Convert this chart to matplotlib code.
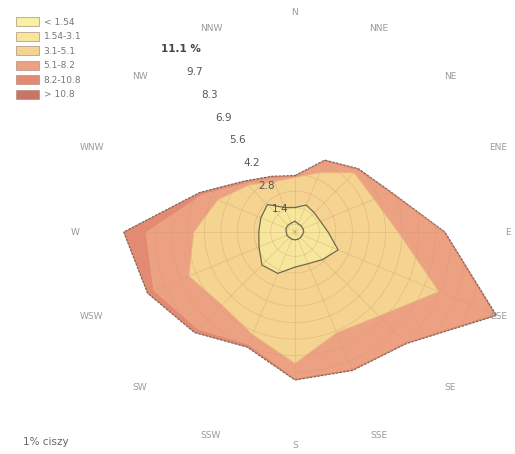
import numpy as np
import matplotlib
matplotlib.use("Agg")
import matplotlib.pyplot as plt
from matplotlib.patches import Patch

# wind directions (clockwise from N)
directions = ["N", "NNE", "NE", "ENE", "E", "ESE", "SE", "SSE",
              "S", "SSW", "SW", "WSW", "W", "WNW", "NW", "NNW"]

# speed classes [m/s]
classes = ["< 1.54", "1.54-3.1", "3.1-5.1", "5.1-8.2", "8.2-10.8", "> 10.8"]

# frequency of each speed class per direction [%]
freq_lt154 = [0.55, 0.45, 0.45, 0.45, 0.45, 0.40, 0.40, 0.40,
              0.40, 0.40, 0.40, 0.45, 0.45, 0.50, 0.50, 0.50]
freq_154_31 = [0.71, 1.05, 0.95, 0.97, 1.25, 2.00, 1.60, 1.36,
               1.40, 1.90, 2.00, 1.55, 1.41, 1.40, 1.50, 0.86]
freq_31_51 = [1.54, 1.80, 2.90, 2.98, 3.60, 5.60, 4.10, 3.84,
              4.95, 3.40, 2.90, 3.90, 3.34, 2.40, 1.40, 1.44]
freq_51_82 = [0.05, 0.65, 0.25, 0.90, 2.35, 3.10, 1.95, 2.05,
              0.80, 0.60, 1.80, 2.00, 2.50, 0.85, 0.20, 0.25]
freq_82_108 = [0.05, 0.05, 0.05, 0.05, 0.05, 0.10, 0.05, 0.05,
               0.05, 0.10, 0.20, 0.30, 1.10, 0.15, 0.10, 0.05]
freq_gt108 = [0.00, 0.00, 0.00, 0.00, 0.00, 0.00, 0.00, 0.00,
              0.00, 0.00, 0.00, 0.00, 0.00, 0.00, 0.00, 0.00]

ring_labels = ["1.4", "2.8", "4.2", "5.6", "6.9", "8.3", "9.7", "11.1 %"]
ring_values = [1.4, 2.8, 4.2, 5.6, 6.9, 8.3, 9.7, 11.1]

calm_text = "1% ciszy"

colors = ["#f7f1a2", "#f6e79c", "#f5d391", "#eda183", "#e48a73", "#c97565"]

freqs = np.array([freq_lt154, freq_154_31, freq_31_51,
                  freq_51_82, freq_82_108, freq_gt108])
cum = np.cumsum(freqs, axis=0)

theta = np.deg2rad(np.arange(16) * 22.5)
theta_c = np.append(theta, theta[0])

fig = plt.figure(figsize=(5.15, 4.54), dpi=100)
ax = fig.add_axes([0.1456, 0.0044, 0.8544, 0.969], projection="polar")
ax.set_theta_zero_location("N")
ax.set_theta_direction(-1)
ax.set_ylim(0, 11.3)
ax.set_xticks([])
ax.set_yticks([])
ax.grid(False)
ax.spines["polar"].set_visible(False)
ax.patch.set_alpha(0)

# filled classes, outermost first
patches = []
for i in range(5, -1, -1):
    r = np.append(cum[i], cum[i][0])
    p = ax.fill(theta_c, r, color=colors[i], zorder=2 + (5 - i) * 0.01, lw=0)
    patches.append(p[0])
outer = patches[0]

# grid clipped to the rose
grid_kw = dict(color="#d39a6c", alpha=0.4, lw=0.55, zorder=3)
tt = np.linspace(0, 2 * np.pi, 361)
for rr in np.arange(0.4, 11.3, 0.85):
    ln, = ax.plot(tt, np.full_like(tt, rr), **grid_kw)
    ln.set_clip_path(outer)
for t in theta:
    ln, = ax.plot([t, t], [0, 11.3], **grid_kw)
    ln.set_clip_path(outer)

# outlines
ax.plot(theta_c, np.append(cum[5], cum[5][0]), color="#7d6658", lw=0.9,
        ls=(0, (2, 1)), zorder=4)
ax.plot(theta_c, np.append(cum[3], cum[3][0]), color="#d98a70", lw=0.5, zorder=4)
ax.plot(theta_c, np.append(cum[2], cum[2][0]), color="#e8b880", lw=0.6, zorder=4)
ax.plot(theta_c, np.append(cum[1], cum[1][0]), color="#6e6a4e", lw=0.9, zorder=4)
ax.plot(theta_c, np.append(cum[0], cum[0][0]), color="#6e6a4e", lw=0.9, zorder=4)

# radial scale labels
for v, lab in zip(ring_values, ring_labels):
    bold = lab.endswith("%")
    ax.text(np.deg2rad(328), v, lab, ha="center", va="center",
            fontsize=7.5, color="#444444" if bold else "#555555",
            fontweight="bold" if bold else "normal", zorder=6)

# direction labels
for t, d in zip(theta, directions):
    rad = 10.95 if d in ("E", "S") else 11.3
    ax.text(t, rad, d, ha="center", va="center", fontsize=6.5,
            color="#9a9a9a", clip_on=False, zorder=6)

handles = [Patch(facecolor=c, edgecolor="#b09080", lw=0.5) for c in colors]
fig.legend(handles, classes, loc="upper left", bbox_to_anchor=(0.025, 0.97),
           frameon=False, fontsize=6.5, labelcolor="#777777",
           handlelength=2.5, handleheight=1.15, labelspacing=0.55,
           handletextpad=0.5, borderaxespad=0)

fig.text(0.045, 0.02, calm_text, fontsize=7.5, color="#666666")

fig.savefig("out.png", dpi=100)
